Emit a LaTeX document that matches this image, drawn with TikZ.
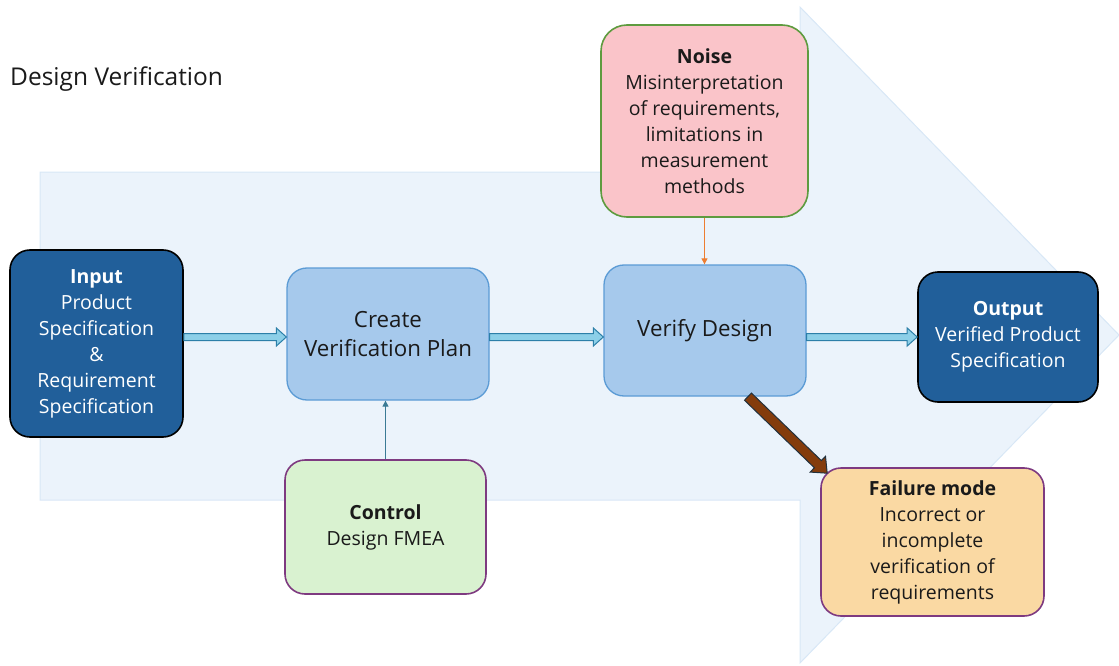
\documentclass[tikz,border=0pt]{standalone}
\usepackage{fontspec}
\setmainfont{Open Sans}
\usetikzlibrary{calc,arrows.meta}

\definecolor{bgarrow}{HTML}{EBF3FB}
\definecolor{bgedge}{HTML}{D8E7F6}
\definecolor{darkbox}{HTML}{215F9A}
\definecolor{lightbox}{HTML}{A6C9EC}
\definecolor{lightedge}{HTML}{5B9BD5}
\definecolor{noisefill}{HTML}{FAC4C9}
\definecolor{noiseedge}{HTML}{5E9B3F}
\definecolor{ctrlfill}{HTML}{D9F2D0}
\definecolor{purpleedge}{HTML}{7E3A80}
\definecolor{failfill}{HTML}{FAD9A3}
\definecolor{flowlight}{HTML}{8CCFE8}
\definecolor{flowdark}{HTML}{2C7FA8}
\definecolor{brownfill}{HTML}{843C0C}
\definecolor{brownedge}{HTML}{22313D}
\definecolor{ctrlarrow}{HTML}{3A7A95}
\definecolor{noisearrow}{HTML}{ED7D31}
\definecolor{textdark}{HTML}{1A1A1A}

\tikzset{
  box/.style={rounded corners=20pt, align=center, inner sep=0pt,
    line width=1.6pt, font=\fontsize{19.5}{26}\selectfont, text=textdark},
  darkstep/.style={box, fill=darkbox, draw=black, text=white},
  lightstep/.style={box, fill=lightbox, draw=lightedge, line width=1.3pt,
    font=\fontsize{22.3}{29}\selectfont},
  % block arrow drawn as a polygon between the two end points:
  % #1 shaft half-width, #2 head half-width, #3 head length
  blockarrow/.style n args={3}{
    to path={
      ($(\tikztostart)!#1!90:(\tikztotarget)$) --
      ($(\tikztotarget)!#3!(\tikztostart)!#1!90:(\tikztotarget)$) --
      ($(\tikztotarget)!#3!(\tikztostart)!#2!90:(\tikztotarget)$) --
      (\tikztotarget) --
      ($(\tikztotarget)!#3!(\tikztostart)!#2!-90:(\tikztotarget)$) --
      ($(\tikztotarget)!#3!(\tikztostart)!#1!-90:(\tikztotarget)$) --
      ($(\tikztostart)!#1!-90:(\tikztotarget)$) -- cycle
    }},
  flow/.style={blockarrow={3.5pt}{9pt}{10pt}, fill=flowlight, draw=flowdark,
    line width=1pt, line join=miter},
  failarrow/.style={blockarrow={5pt}{11pt}{13pt}, fill=brownfill, draw=brownedge,
    line width=1pt, line join=miter},
  thinarrow/.style={line width=1.2pt, -{Triangle[length=6pt,width=6pt]}}
}

\begin{document}
\begin{tikzpicture}[x=1pt,y=-1pt]
\useasboundingbox (0,0) rectangle (1119,666);

% large background arrow
\fill[bgarrow, draw=bgedge, line width=1pt]
  (40,172) -- (800,172) -- (800,7) -- (1119,335) -- (800,663) -- (800,500)
  -- (40,500) -- cycle;

% title
\node[anchor=west, inner sep=0pt, font=\fontsize{24.5}{28}\selectfont, text=textdark]
  (title) at (10,79) {Design Verification};

% boxes
\node[darkstep, minimum width=173pt, minimum height=187pt] (input) at (96.5,343.5)
  {\textbf{Input}\\Product\\Specification\\\&\\Requirement\\Specification};
\node[lightstep, minimum width=202pt, minimum height=132pt] (create) at (388,334)
  {Create\\Verification Plan};
\node[lightstep, minimum width=202pt, minimum height=131pt] (verify) at (705,330.5)
  {Verify Design};
\node[darkstep, minimum width=180pt, minimum height=130pt] (output) at (1008,337)
  {\textbf{Output}\\Verified Product\\Specification};
\node[box, fill=noisefill, draw=noiseedge, minimum width=207pt, minimum height=192pt,
  rounded corners=26pt] (noise) at (704.5,121)
  {\textbf{Noise}\\Misinterpretation\\of requirements,\\limitations in\\measurement\\methods};
\node[box, fill=ctrlfill, draw=purpleedge, minimum width=201pt, minimum height=134pt]
  (control) at (385.5,527) {\textbf{Control}\\Design FMEA};
\node[box, fill=failfill, draw=purpleedge, minimum width=223pt, minimum height=148pt]
  (failure) at (932.5,542)
  {\textbf{Failure mode}\\Incorrect or\\incomplete\\verification of\\requirements};

% main flow
\draw[flow] (input.east |- output.west) to (create.west |- output.west);
\draw[flow] (create.east |- output.west) to (verify.west |- output.west);
\draw[flow] (verify.east |- output.west) to (output.west);

% influences
\draw[thinarrow, ctrlarrow] (control.north) -- (control.north |- create.south);
\draw[thinarrow, noisearrow] (noise.south) -- (noise.south |- verify.north);

% failure mode
\coordinate (failtip) at ([xshift=7pt,yshift=-6pt]failure.north west);
\draw[failarrow] (verify.-57) to (failtip);
\end{tikzpicture}
\end{document}
